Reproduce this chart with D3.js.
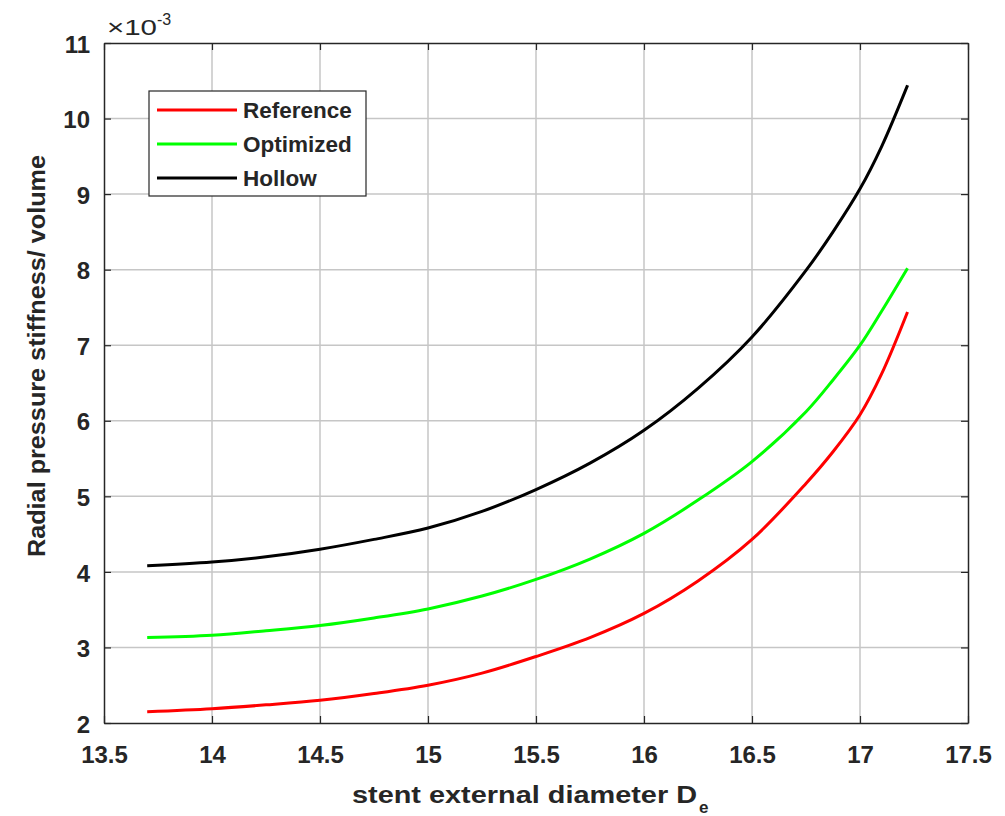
<!DOCTYPE html>
<html>
<head>
<meta charset="utf-8">
<script src="https://cdn.jsdelivr.net/npm/d3@7"></script>
<style>
html,body{margin:0;padding:0;background:#fff;}
svg{display:block;}
text{font-family:"Liberation Sans",Arial,Helvetica,sans-serif;font-weight:bold;fill:#262626;}
</style>
</head>
<body>
<svg id="chart" width="1005" height="816"></svg>
<script>
// ---- data (values ×10^-3) ----
const diameters = [13.7, 14.0, 14.25, 14.5, 14.75, 15.0, 15.25, 15.5, 15.75, 16.0, 16.25, 16.5, 16.75, 16.875, 17.0, 17.1, 17.22];
const reference = [2.15, 2.19, 2.24, 2.30, 2.39, 2.50, 2.66, 2.88, 3.13, 3.45, 3.88, 4.43, 5.17, 5.59, 6.08, 6.62, 7.44];
const optimized = [3.13, 3.16, 3.22, 3.29, 3.39, 3.51, 3.68, 3.90, 4.17, 4.51, 4.95, 5.46, 6.12, 6.54, 7.00, 7.45, 8.02];
const hollow    = [4.08, 4.13, 4.20, 4.30, 4.43, 4.58, 4.80, 5.09, 5.44, 5.875, 6.43, 7.11, 7.99, 8.50, 9.07, 9.63, 10.44];
const seriesNames = ["Reference", "Optimized", "Hollow"];
const seriesColors = ["#ff0000", "#00ff00", "#000000"];
const xTicks = [13.5, 14, 14.5, 15, 15.5, 16, 16.5, 17, 17.5];
const yTicks = [2, 3, 4, 5, 6, 7, 8, 9, 10, 11];

const svg = d3.select("#chart");
const L = 104, T = 43, R = 968, B = 723;
const x = d3.scaleLinear().domain([13.5, 17.5]).range([L, R]);
const y = d3.scaleLinear().domain([2, 11]).range([B, T]);

// grid
const grid = svg.append("g");
grid.selectAll("line.gx").data(xTicks.slice(1, -1)).enter().append("line")
  .attr("x1", d => x(d)).attr("x2", d => x(d)).attr("y1", T).attr("y2", B)
  .attr("stroke", "#c6c6c6").attr("stroke-width", 1.5);
grid.selectAll("line.gy").data(yTicks.slice(1, -1)).enter().append("line")
  .attr("y1", d => y(d)).attr("y2", d => y(d)).attr("x1", L).attr("x2", R)
  .attr("stroke", "#c6c6c6").attr("stroke-width", 1.5);

// axes
const tickFont = "24px";
const xAxis = d3.axisBottom(x).tickValues(xTicks).tickSizeInner(-7).tickSizeOuter(0).tickPadding(26)
  .tickFormat(d3.format("~g"));
const gx = svg.append("g").attr("transform", `translate(0,${B})`).call(xAxis);
gx.selectAll("text").style("font-size", tickFont).attr("fill", "#262626").attr("dy", "0").attr("y", 40);
const yAxis = d3.axisLeft(y).tickValues(yTicks).tickSizeInner(-7).tickSizeOuter(0).tickPadding(14)
  .tickFormat(d3.format("~g"));
const gy = svg.append("g").attr("transform", `translate(${L},0)`).call(yAxis);
gy.selectAll("text").style("font-size", tickFont).attr("fill", "#262626").attr("dy", "0.38em");
// top and right ticks
const gTop = svg.append("g").attr("transform", `translate(0,${T})`)
  .call(d3.axisTop(x).tickValues(xTicks).tickSizeInner(-7).tickSizeOuter(0).tickFormat(""));
const gRight = svg.append("g").attr("transform", `translate(${R},0)`)
  .call(d3.axisRight(y).tickValues(yTicks).tickSizeInner(-7).tickSizeOuter(0).tickFormat(""));
[gx, gy, gTop, gRight].forEach(g => {
  g.select(".domain").attr("stroke", "#262626").attr("stroke-width", 1.5);
  g.selectAll(".tick line").attr("stroke", "#262626").attr("stroke-width", 1.2);
});

// lines
const data = [reference, optimized, hollow];
const line = d3.line().x((d, i) => x(diameters[i])).y(d => y(d)).curve(d3.curveCatmullRom.alpha(0.5));
data.forEach((vals, k) => {
  svg.append("path").datum(vals).attr("d", line)
    .attr("fill", "none").attr("stroke", seriesColors[k]).attr("stroke-width", 3)
    .attr("stroke-linejoin", "round");
});

// exponent label
const ex = svg.append("text").attr("y", 35).style("font-weight", "normal");
ex.append("tspan").attr("x", 107).style("font-size", "22px")
  .attr("textLength", 50).attr("lengthAdjust", "spacingAndGlyphs").text("×10");
ex.append("tspan").attr("x", 157).attr("y", 25).style("font-size", "16px").text("-3");

// axis titles
svg.append("text").attr("x", 352).attr("y", 803).style("font-size", "23px")
  .attr("textLength", 345).attr("lengthAdjust", "spacingAndGlyphs")
  .text("stent external diameter D");
svg.append("text").attr("x", 699).attr("y", 813).style("font-size", "17px").text("e");

svg.append("text").attr("transform", "translate(45,557) rotate(-90)").attr("x", 0).attr("y", 0)
  .style("font-size", "23px").attr("textLength", 402).attr("lengthAdjust", "spacingAndGlyphs")
  .text("Radial pressure stiffness/ volume");

// legend
const lg = svg.append("g");
lg.append("rect").attr("x", 149).attr("y", 91).attr("width", 217).attr("height", 105)
  .attr("fill", "#fff").attr("stroke", "#262626").attr("stroke-width", 1.2);
seriesNames.forEach((name, k) => {
  const yy = 110 + k * 34;
  lg.append("line").attr("x1", 157).attr("x2", 237).attr("y1", yy).attr("y2", yy)
    .attr("stroke", seriesColors[k]).attr("stroke-width", 3);
  lg.append("text").attr("x", 243).attr("y", yy).attr("dy", "0.36em").style("font-size", "22.5px").text(name);
});
</script>
</body>
</html>
